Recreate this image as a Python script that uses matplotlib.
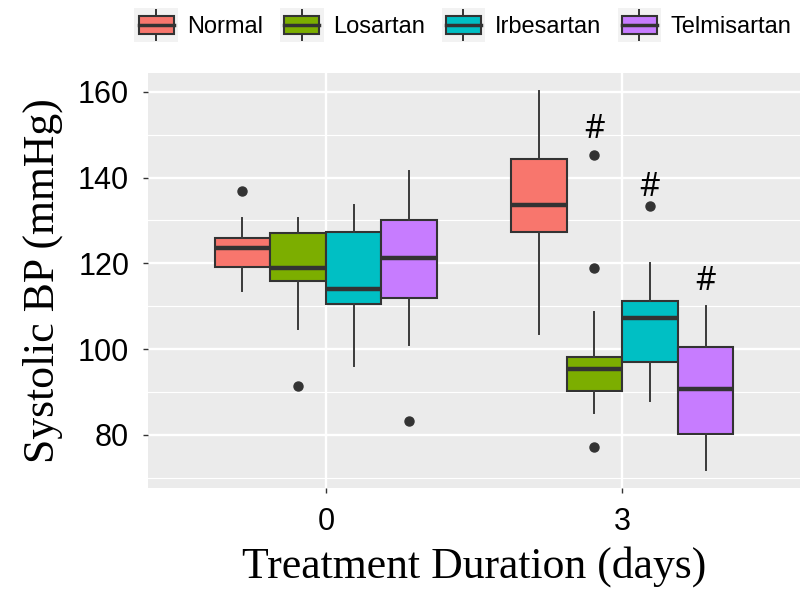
import matplotlib
matplotlib.use("Agg")
import matplotlib.pyplot as plt
from matplotlib.patches import Rectangle, Patch
from matplotlib.lines import Line2D
from matplotlib.legend_handler import HandlerBase
from matplotlib.ticker import MultipleLocator

# ---------------- data ----------------
groups = ["0", "3"]
treatments = ["Normal", "Losartan", "Irbesartan", "Telmisartan"]
colors = ["#F8766D", "#7CAE00", "#00BFC4", "#C77CFF"]

# per treatment: [day 0, day 3]
q1 = {"Normal": [119.1, 127.3], "Losartan": [116.0, 90.2],
      "Irbesartan": [110.6, 97.1], "Telmisartan": [111.9, 80.2]}
med = {"Normal": [123.5, 133.5], "Losartan": [118.8, 95.3],
       "Irbesartan": [114.1, 107.2], "Telmisartan": [121.2, 90.7]}
q3 = {"Normal": [125.8, 144.3], "Losartan": [127.0, 98.2],
      "Irbesartan": [127.3, 111.2], "Telmisartan": [130.1, 100.4]}
whislo = {"Normal": [113.6, 103.6], "Losartan": [104.8, 85.0],
          "Irbesartan": [96.1, 88.0], "Telmisartan": [101.0, 71.9]}
whishi = {"Normal": [130.5, 160.1], "Losartan": [130.5, 108.7],
          "Irbesartan": [133.5, 120.0], "Telmisartan": [141.5, 110.1]}
fliers = {"Normal": [[136.8], []], "Losartan": [[91.5], [145.2, 118.8, 77.1]],
          "Irbesartan": [[], [133.3]], "Telmisartan": [[83.2], []]}

# significance marks (day 3), baseline heights
sig_treatments = ["Losartan", "Irbesartan", "Telmisartan"]
sig_y = [149.3, 135.6, 113.7]

yticks = [80, 100, 120, 140, 160]

# ---------------- figure ----------------
fig = plt.figure(figsize=(8.03, 5.90), dpi=100)
ax = fig.add_axes([148 / 803, 1 - 488 / 590, (800 - 148) / 803, (488 - 73) / 590])
ax.set_facecolor("#EBEBEB")
for s in ax.spines.values():
    s.set_visible(False)

group_pos = [1, 2]
dodge = 0.75
n = len(treatments)
bw = dodge / n
offsets = {t: (i - (n - 1) / 2) * bw for i, t in enumerate(treatments)}

for t, c in zip(treatments, colors):
    stats = []
    for gi in range(len(groups)):
        stats.append(dict(med=med[t][gi], q1=q1[t][gi], q3=q3[t][gi],
                          whislo=whislo[t][gi], whishi=whishi[t][gi],
                          fliers=fliers[t][gi], label=groups[gi]))
    ax.bxp(stats, positions=[p + offsets[t] for p in group_pos], widths=bw,
           patch_artist=True, showcaps=False, manage_ticks=False,
           boxprops=dict(facecolor=c, edgecolor="#333333", linewidth=1.5),
           medianprops=dict(color="#333333", linewidth=3.2, solid_capstyle="butt"),
           whiskerprops=dict(color="#3a3a3a", linewidth=1.4),
           flierprops=dict(marker="o", markersize=6.5, markerfacecolor="#333333",
                           markeredgecolor="#333333"),
           zorder=3)

for t, yv in zip(sig_treatments, sig_y):
    ax.text(group_pos[1] + offsets[t], yv, "#", ha="center", va="baseline",
            fontsize=23, family="Open Sans", color="black", zorder=4)

ax.set_xlim(0.4, 2.6)
ax.set_ylim(67.6, 164.4)
ax.set_xticks(group_pos)
ax.set_xticklabels(groups)
ax.set_yticks(yticks)
ax.yaxis.set_minor_locator(MultipleLocator(10))
ax.grid(which="major", color="white", linewidth=1.7, zorder=0)
ax.grid(which="minor", axis="y", color="white", linewidth=0.8, zorder=0)
ax.set_axisbelow(True)
ax.tick_params(which="major", length=3.5, width=1.0, color="#333333",
               labelsize=22, labelcolor="black", pad=10)
ax.tick_params(which="minor", length=0)
for lab in ax.get_xticklabels() + ax.get_yticklabels():
    lab.set_family("Liberation Sans")

ax.set_xlabel("Treatment Duration (days)", family="Liberation Serif", fontsize=31.5, labelpad=7)
ax.set_ylabel("Systolic BP (mmHg)", family="Liberation Serif", fontsize=31.5, labelpad=11)


# ---------------- legend ----------------
class BoxHandler(HandlerBase):
    def create_artists(self, legend, orig_handle, xdescent, ydescent,
                       width, height, fontsize, trans):
        x0, y0 = -xdescent, -ydescent
        arts = []
        arts.append(Rectangle((x0, y0), width, height, facecolor="#F2F2F2",
                              edgecolor="none", transform=trans))
        bx0, bx1 = x0 + width * 0.1, x0 + width * 0.9
        by0, by1 = y0 + height * 0.22, y0 + height * 0.78
        xm = x0 + width / 2
        arts.append(Line2D([xm, xm], [y0 + height * 0.05, by0], color="#333333",
                           lw=1.4, transform=trans))
        arts.append(Line2D([xm, xm], [by1, y0 + height * 0.95], color="#333333",
                           lw=1.4, transform=trans))
        arts.append(Rectangle((bx0, by0), bx1 - bx0, by1 - by0,
                              facecolor=orig_handle.get_facecolor(),
                              edgecolor="#333333", lw=1.5, transform=trans))
        ym = y0 + height / 2
        arts.append(Line2D([bx0, bx1], [ym, ym], color="#333333", lw=2.5,
                           transform=trans))
        return arts


handles = [Patch(facecolor=c, label=t) for t, c in zip(treatments, colors)]
fig.legend(handles=handles, labels=treatments, handler_map={Patch: BoxHandler()},
           loc="center", bbox_to_anchor=(463 / 803, 1 - 25 / 590), ncol=4,
           frameon=False, prop=dict(family="Liberation Sans", size=17),
           handlelength=1.85, handleheight=1.8, handletextpad=0.4,
           columnspacing=0.7, borderpad=0, borderaxespad=0)

fig.savefig("out.png", dpi=100)
